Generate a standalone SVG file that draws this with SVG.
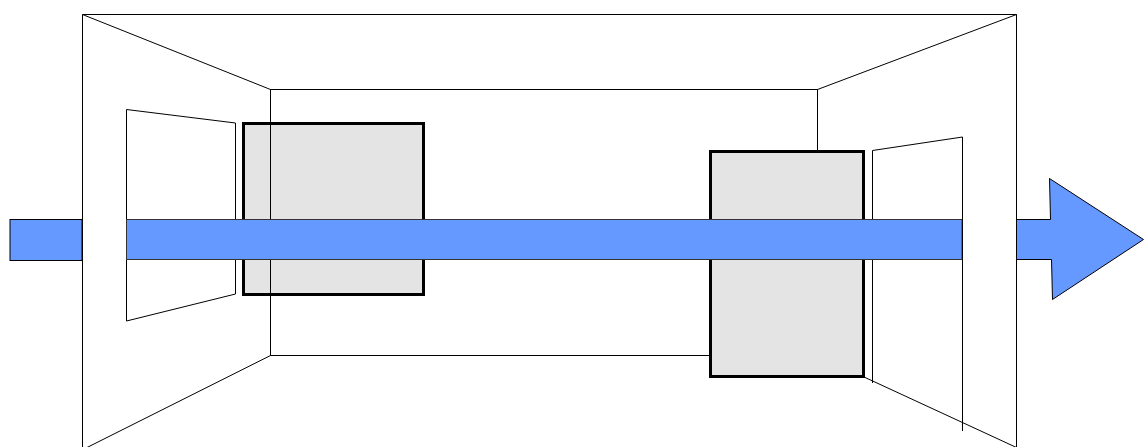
<svg xmlns="http://www.w3.org/2000/svg" width="1144" height="447" viewBox="0 0 1144 447">
  <style>
    .wall { fill: none; stroke: #000; stroke-width: 1; }
    .door { fill: #fff; stroke: #000; stroke-width: 1; }
    .door-open { fill: none; stroke: #000; stroke-width: 1; }
    .panel { fill: #e4e4e4; stroke: #000; stroke-width: 3; }
    .flow { fill: #6699ff; stroke: #000; stroke-width: 1; stroke-linejoin: miter; }
    .flow-body { fill: #6699ff; stroke: #333; stroke-width: 1; }
  </style>
  <rect width="1144" height="447" fill="#fff"/>

  <!-- left partition panel (behind the room edges) -->
  <g id="panel-left">
    <rect class="panel" x="243.5" y="123.5" width="180" height="171"/>
  </g>

  <!-- room in perspective: outer frame, back wall, corner edges -->
  <g id="room">
    <polyline class="wall" points="82.5,447 82.5,14.5 1016.5,14.5 1016.5,447"/>
    <rect class="wall" x="270.5" y="89.5" width="547" height="266"/>
    <line class="wall" x1="82.5" y1="14.5" x2="270.5" y2="89.5"/>
    <line class="wall" x1="1016.5" y1="14.5" x2="817.5" y2="89.5"/>
    <line class="wall" x1="270.5" y1="355.5" x2="86" y2="448"/>
    <line class="wall" x1="817.5" y1="355.5" x2="1016.5" y2="447.5"/>
  </g>

  <!-- doors on the side walls -->
  <g id="door-left">
    <polygon class="door" points="126.5,109.5 235.5,123 235.5,294 126.5,321"/>
  </g>
  <g id="door-right">
    <polyline class="door-open" points="872.5,383 872.5,150.5 962.5,137 962.5,431"/>
  </g>

  <!-- right partition panel -->
  <g id="panel-right">
    <rect class="panel" x="710.5" y="151.5" width="153" height="225"/>
  </g>

  <!-- flow arrow passing through the room, broken at the walls -->
  <g id="connectors">
    <rect class="flow" x="10" y="219.5" width="72" height="41"/>
    <rect class="flow-body" x="126.5" y="219.5" width="835.5" height="40"/>
    <polygon class="flow" points="1016.5,219.5 1050.5,219.5 1049.5,178.5 1143.5,239.5 1052.5,299.5 1051.5,259.5 1016.5,259.5"/>
    <line class="wall" x1="82.5" y1="214" x2="82.5" y2="266"/>
    <line class="wall" x1="1016.5" y1="214" x2="1016.5" y2="266"/>
    <line class="wall" x1="962.5" y1="214" x2="962.5" y2="266" stroke="#777"/>
  </g>
</svg>
